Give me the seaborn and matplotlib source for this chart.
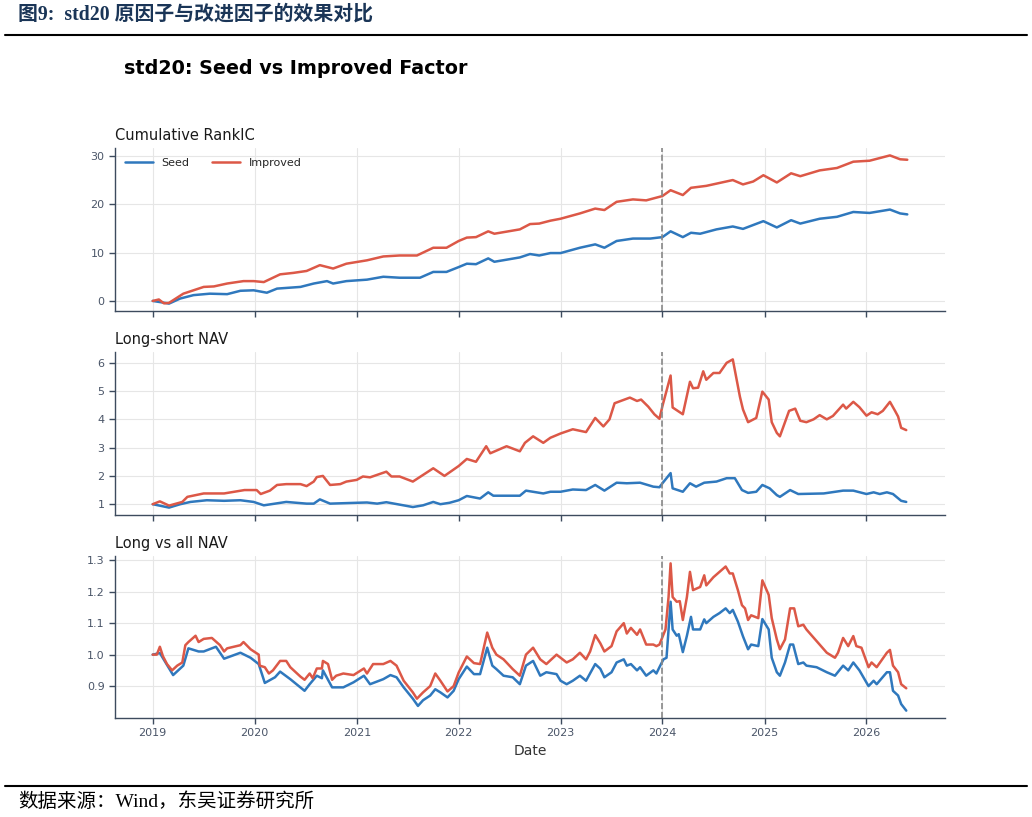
import matplotlib
matplotlib.use("Agg")
import matplotlib.pyplot as plt
import matplotlib.dates as mdates
import pandas as pd
import seaborn as sns

# Dates are written as decimal years
ic_seed_t = [2019.0, 2019.09, 2019.16, 2019.27, 2019.4, 2019.56, 2019.73, 2019.86, 2019.99, 2020.12, 2020.22,
             2020.45, 2020.58, 2020.71, 2020.77, 2020.9, 2021.1, 2021.26, 2021.42, 2021.62, 2021.75, 2021.88,
             2022.0, 2022.08, 2022.17, 2022.29, 2022.35, 2022.6, 2022.7, 2022.79, 2022.9, 2023.0, 2023.19,
             2023.34, 2023.43, 2023.55, 2023.71, 2023.88, 2024.0, 2024.08, 2024.2, 2024.28, 2024.37, 2024.53,
             2024.69, 2024.79, 2024.99, 2025.12, 2025.26, 2025.35, 2025.54, 2025.71, 2025.87, 2026.03, 2026.23,
             2026.33, 2026.4]
ic_seed_v = [0.0, -0.3, -0.55, 0.5, 1.2, 1.5, 1.4, 2.1, 2.2, 1.7, 2.55,
             2.9, 3.6, 4.1, 3.6, 4.1, 4.4, 5.0, 4.8, 4.8, 6.0, 6.0,
             7.0, 7.7, 7.6, 8.8, 8.1, 9.0, 9.7, 9.4, 9.9, 9.9, 11.0,
             11.7, 11.0, 12.4, 12.9, 12.9, 13.2, 14.4, 13.2, 14.1, 13.9, 14.8,
             15.4, 14.9, 16.5, 15.2, 16.7, 16.0, 17.0, 17.4, 18.4, 18.2, 18.9,
             18.1, 17.9]
ic_impr_t = [2019.0, 2019.06, 2019.11, 2019.16, 2019.3, 2019.5, 2019.6, 2019.73, 2019.89, 2019.99, 2020.09,
             2020.25, 2020.38, 2020.51, 2020.64, 2020.77, 2020.9, 2021.1, 2021.26, 2021.42, 2021.59, 2021.75,
             2021.88, 2022.0, 2022.08, 2022.17, 2022.29, 2022.35, 2022.6, 2022.7, 2022.79, 2022.9, 2023.0,
             2023.19, 2023.34, 2023.43, 2023.55, 2023.71, 2023.84, 2024.0, 2024.08, 2024.2, 2024.28, 2024.43,
             2024.69, 2024.79, 2024.89, 2024.99, 2025.12, 2025.26, 2025.35, 2025.54, 2025.71, 2025.87, 2026.03,
             2026.23, 2026.33, 2026.4]
ic_impr_v = [0.0, 0.3, -0.5, -0.4, 1.5, 2.9, 3.0, 3.6, 4.1, 4.1, 3.9,
             5.5, 5.8, 6.2, 7.4, 6.7, 7.7, 8.4, 9.2, 9.4, 9.4, 11.0,
             11.0, 12.4, 13.1, 13.2, 14.4, 13.9, 14.8, 15.9, 16.0, 16.6, 17.0,
             18.1, 19.1, 18.8, 20.5, 21.0, 20.8, 21.7, 22.9, 21.9, 23.4, 23.8,
             25.0, 24.1, 24.7, 26.0, 24.5, 26.4, 25.8, 27.0, 27.5, 28.8, 29.0,
             30.1, 29.3, 29.2]

ls_seed_t = [2019.0, 2019.16, 2019.27, 2019.37, 2019.53, 2019.7, 2019.86, 2019.99, 2020.09, 2020.31, 2020.51,
             2020.58, 2020.64, 2020.74, 2021.0, 2021.1, 2021.2, 2021.29, 2021.55, 2021.65, 2021.75, 2021.82,
             2021.91, 2022.0, 2022.08, 2022.21, 2022.29, 2022.34, 2022.6, 2022.66, 2022.83, 2022.9, 2023.0,
             2023.12, 2023.25, 2023.34, 2023.43, 2023.55, 2023.65, 2023.78, 2023.91, 2023.97, 2024.0, 2024.08,
             2024.1, 2024.2, 2024.27, 2024.33, 2024.41, 2024.53, 2024.63, 2024.71, 2024.78, 2024.84, 2024.92,
             2024.98, 2025.05, 2025.12, 2025.15, 2025.25, 2025.33, 2025.58, 2025.77, 2025.87, 2026.0, 2026.07,
             2026.13, 2026.2, 2026.26, 2026.34, 2026.39]
ls_seed_v = [1.0, 0.88, 1.0, 1.08, 1.14, 1.12, 1.14, 1.08, 0.96, 1.08, 1.02,
             1.02, 1.17, 1.02, 1.05, 1.06, 1.02, 1.07, 0.9, 0.96, 1.08, 1.0,
             1.05, 1.14, 1.29, 1.2, 1.42, 1.3, 1.3, 1.48, 1.38, 1.44, 1.44,
             1.52, 1.5, 1.68, 1.48, 1.76, 1.74, 1.76, 1.62, 1.6, 1.74, 2.1,
             1.56, 1.44, 1.74, 1.62, 1.76, 1.8, 1.92, 1.92, 1.5, 1.4, 1.44,
             1.68, 1.56, 1.32, 1.26, 1.5, 1.36, 1.38, 1.48, 1.48, 1.36, 1.42,
             1.36, 1.42, 1.36, 1.12, 1.08]
ls_impr_t = [2019.0, 2019.07, 2019.16, 2019.29, 2019.34, 2019.5, 2019.7, 2019.8, 2019.9, 2020.02, 2020.06,
             2020.15, 2020.22, 2020.31, 2020.45, 2020.51, 2020.58, 2020.61, 2020.67, 2020.74, 2020.84, 2020.9,
             2021.0, 2021.06, 2021.13, 2021.29, 2021.34, 2021.42, 2021.55, 2021.75, 2021.86, 2022.0, 2022.08,
             2022.17, 2022.27, 2022.31, 2022.47, 2022.6, 2022.65, 2022.73, 2022.83, 2022.9, 2023.0, 2023.12,
             2023.25, 2023.34, 2023.42, 2023.48, 2023.53, 2023.59, 2023.68, 2023.75, 2023.79, 2023.86, 2023.92,
             2023.97, 2024.0, 2024.08, 2024.1, 2024.2, 2024.27, 2024.3, 2024.35, 2024.4, 2024.43, 2024.5,
             2024.56, 2024.63, 2024.69, 2024.76, 2024.79, 2024.84, 2024.92, 2024.98, 2025.04, 2025.07, 2025.12,
             2025.15, 2025.24, 2025.3, 2025.35, 2025.41, 2025.48, 2025.54, 2025.61, 2025.67, 2025.77, 2025.8,
             2025.87, 2025.93, 2026.0, 2026.05, 2026.11, 2026.16, 2026.23, 2026.28, 2026.31, 2026.34, 2026.39]
ls_impr_v = [1.0, 1.1, 0.95, 1.08, 1.26, 1.38, 1.38, 1.44, 1.5, 1.5, 1.36,
             1.48, 1.68, 1.71, 1.71, 1.64, 1.8, 1.96, 2.0, 1.68, 1.71, 1.8,
             1.86, 1.98, 1.95, 2.15, 1.98, 1.98, 1.8, 2.27, 2.0, 2.35, 2.6,
             2.5, 3.05, 2.8, 3.05, 2.87, 3.17, 3.4, 3.17, 3.35, 3.5, 3.65,
             3.55, 4.05, 3.75, 4.0, 4.57, 4.65, 4.77, 4.65, 4.7, 4.45, 4.18,
             4.02, 4.47, 5.55, 4.42, 4.18, 5.33, 5.1, 5.12, 5.7, 5.4, 5.64,
             5.64, 6.0, 6.12, 4.8, 4.35, 3.9, 4.05, 4.98, 4.7, 3.9, 3.52,
             3.4, 4.3, 4.38, 3.95, 3.9, 4.0, 4.15, 4.0, 4.12, 4.52, 4.38,
             4.62, 4.43, 4.13, 4.25, 4.18, 4.3, 4.62, 4.3, 4.1, 3.7, 3.62]

la_seed_t = [2019.0, 2019.07, 2019.2, 2019.3, 2019.35, 2019.45, 2019.5, 2019.62, 2019.7, 2019.86, 2019.96,
             2020.04, 2020.1, 2020.2, 2020.25, 2020.35, 2020.49, 2020.54, 2020.61, 2020.66, 2020.67, 2020.76,
             2020.87, 2020.97, 2021.07, 2021.13, 2021.26, 2021.33, 2021.39, 2021.46, 2021.55, 2021.6, 2021.65,
             2021.72, 2021.77, 2021.82, 2021.89, 2021.95, 2022.0, 2022.08, 2022.15, 2022.21, 2022.28, 2022.33,
             2022.37, 2022.44, 2022.53, 2022.6, 2022.66, 2022.73, 2022.8, 2022.86, 2022.96, 2023.0, 2023.06,
             2023.12, 2023.19, 2023.25, 2023.34, 2023.39, 2023.43, 2023.5, 2023.55, 2023.62, 2023.65, 2023.69,
             2023.75, 2023.78, 2023.84, 2023.91, 2023.94, 2023.97, 2024.01, 2024.04, 2024.08, 2024.1, 2024.14,
             2024.16, 2024.2, 2024.24, 2024.28, 2024.3, 2024.37, 2024.41, 2024.43, 2024.5, 2024.56, 2024.62,
             2024.66, 2024.69, 2024.74, 2024.79, 2024.84, 2024.87, 2024.94, 2024.98, 2025.04, 2025.07, 2025.12,
             2025.15, 2025.2, 2025.25, 2025.28, 2025.33, 2025.38, 2025.41, 2025.51, 2025.61, 2025.69, 2025.77,
             2025.82, 2025.87, 2025.93, 2026.02, 2026.07, 2026.1, 2026.2, 2026.23, 2026.26, 2026.31, 2026.34,
             2026.39]
la_seed_v = [1.0, 1.005, 0.935, 0.965, 1.02, 1.01, 1.01, 1.025, 0.987, 1.006, 0.99,
             0.97, 0.91, 0.928, 0.946, 0.922, 0.885, 0.906, 0.933, 0.925, 0.95, 0.896,
             0.896, 0.912, 0.933, 0.906, 0.922, 0.935, 0.928, 0.896, 0.86, 0.837, 0.855,
             0.87, 0.89, 0.88, 0.864, 0.885, 0.922, 0.962, 0.938, 0.938, 1.022, 0.965,
             0.954, 0.933, 0.928, 0.906, 0.965, 0.98, 0.933, 0.944, 0.938, 0.917, 0.906,
             0.917, 0.933, 0.917, 0.97, 0.955, 0.928, 0.944, 0.975, 0.985, 0.965, 0.97,
             0.95, 0.96, 0.933, 0.95, 0.94, 0.96, 0.985, 0.99, 1.168, 1.08, 1.06,
             1.065, 1.008, 1.06, 1.12, 1.08, 1.08, 1.112, 1.1, 1.12, 1.132, 1.147,
             1.132, 1.142, 1.105, 1.058, 1.017, 1.032, 1.027, 1.113, 1.08, 0.99, 0.944,
             0.933, 0.975, 1.032, 1.032, 0.97, 0.975, 0.965, 0.96, 0.944, 0.933, 0.965,
             0.95, 0.975, 0.95, 0.9, 0.917, 0.906, 0.944, 0.944, 0.885, 0.87, 0.843,
             0.822]
la_impr_t = [2019.0, 2019.04, 2019.07, 2019.1, 2019.14, 2019.19, 2019.24, 2019.29, 2019.32, 2019.35, 2019.42,
             2019.45, 2019.5, 2019.58, 2019.66, 2019.7, 2019.73, 2019.86, 2019.89, 2019.96, 2020.04, 2020.05,
             2020.1, 2020.14, 2020.18, 2020.25, 2020.31, 2020.35, 2020.45, 2020.49, 2020.54, 2020.57, 2020.61,
             2020.66, 2020.67, 2020.72, 2020.76, 2020.8, 2020.87, 2020.97, 2021.07, 2021.1, 2021.16, 2021.26,
             2021.33, 2021.39, 2021.46, 2021.55, 2021.59, 2021.65, 2021.72, 2021.77, 2021.82, 2021.89, 2021.95,
             2022.0, 2022.08, 2022.15, 2022.21, 2022.28, 2022.33, 2022.37, 2022.44, 2022.53, 2022.6, 2022.66,
             2022.73, 2022.8, 2022.86, 2022.96, 2023.0, 2023.06, 2023.12, 2023.19, 2023.25, 2023.29, 2023.34,
             2023.39, 2023.43, 2023.5, 2023.55, 2023.62, 2023.65, 2023.69, 2023.75, 2023.78, 2023.84, 2023.91,
             2023.94, 2023.97, 2024.01, 2024.03, 2024.06, 2024.08, 2024.1, 2024.14, 2024.17, 2024.2, 2024.24,
             2024.27, 2024.3, 2024.37, 2024.41, 2024.43, 2024.5, 2024.56, 2024.62, 2024.66, 2024.69, 2024.74,
             2024.78, 2024.81, 2024.84, 2024.87, 2024.94, 2024.98, 2025.04, 2025.07, 2025.12, 2025.15, 2025.2,
             2025.25, 2025.29, 2025.33, 2025.38, 2025.41, 2025.51, 2025.61, 2025.69, 2025.72, 2025.77, 2025.82,
             2025.87, 2025.9, 2025.95, 2026.02, 2026.05, 2026.1, 2026.2, 2026.23, 2026.26, 2026.31, 2026.34,
             2026.39]
la_impr_v = [1.0, 1.0, 1.025, 0.995, 0.97, 0.95, 0.965, 0.975, 1.03, 1.04, 1.06,
             1.04, 1.05, 1.053, 1.03, 1.01, 1.02, 1.03, 1.04, 1.017, 1.0, 0.965,
             0.96, 0.94, 0.95, 0.98, 0.98, 0.96, 0.93, 0.92, 0.94, 0.925, 0.956,
             0.956, 0.98, 0.97, 0.92, 0.933, 0.94, 0.935, 0.956, 0.94, 0.97, 0.97,
             0.98, 0.965, 0.917, 0.88, 0.86, 0.88, 0.9, 0.94, 0.917, 0.883, 0.9,
             0.943, 0.994, 0.973, 0.97, 1.07, 1.022, 1.0, 0.985, 0.954, 0.933, 1.0,
             1.022, 0.985, 0.97, 1.0, 0.99, 0.975, 0.985, 1.006, 0.985, 1.01, 1.062,
             1.036, 1.01, 1.027, 1.074, 1.1, 1.067, 1.085, 1.063, 1.08, 1.032, 1.032,
             1.027, 1.032, 1.064, 1.08, 1.183, 1.29, 1.183, 1.168, 1.17, 1.11, 1.183,
             1.263, 1.205, 1.215, 1.252, 1.22, 1.246, 1.263, 1.28, 1.258, 1.258, 1.205,
             1.157, 1.147, 1.11, 1.125, 1.116, 1.236, 1.19, 1.116, 1.048, 1.017, 1.048,
             1.147, 1.147, 1.09, 1.095, 1.08, 1.043, 1.006, 0.99, 1.006, 1.053, 1.027,
             1.059, 1.027, 1.022, 0.96, 0.975, 0.96, 1.006, 1.015, 0.965, 0.944, 0.906,
             0.893]

panel_titles = ["Cumulative RankIC", "Long-short NAV", "Long vs all NAV"]
series_names = ["Seed", "Improved"]
series_colors = ["#2f78bd", "#dc5847"]
split_date = "2024-01-01"


def to_date(years):
    years = pd.Series(years, dtype=float)
    whole = years.astype(int)
    start = pd.to_datetime(whole.astype(str) + "-01-01")
    return start + pd.to_timedelta((years - whole) * 365.25, unit="D")


def long_frame(seed_t, seed_v, impr_t, impr_v):
    seed = pd.DataFrame({"Date": to_date(seed_t), "value": seed_v, "series": "Seed"})
    impr = pd.DataFrame({"Date": to_date(impr_t), "value": impr_v, "series": "Improved"})
    return pd.concat([seed, impr], ignore_index=True)


panels = [
    long_frame(ic_seed_t, ic_seed_v, ic_impr_t, ic_impr_v),
    long_frame(ls_seed_t, ls_seed_v, ls_impr_t, ls_impr_v),
    long_frame(la_seed_t, la_seed_v, la_impr_t, la_impr_v),
]

sns.set_theme(style="whitegrid")
plt.rcParams["font.family"] = ["DejaVu Sans"]

fig = plt.figure(figsize=(10.32, 8.17), dpi=100)
W, H = 1032, 817

# report header / footer
hdr_font = ["Liberation Serif", "Noto Sans CJK SC"]
fig.text(18 / W, 1 - 15 / H, "图9:  std20 原因子与改进因子的效果对比", family=hdr_font,
         fontsize=14.3, fontweight="bold", color="#1a3557", ha="left", va="center")
fig.add_artist(plt.Line2D([5 / W, 1027 / W], [1 - 35 / H, 1 - 35 / H], color="black", lw=1.5))
fig.add_artist(plt.Line2D([5 / W, 1027 / W], [1 - 786 / H, 1 - 786 / H], color="black", lw=1.5))
fig.text(18 / W, 1 - 802 / H, "数据来源：Wind，东吴证券研究所", family=hdr_font,
         fontsize=14, color="black", ha="left", va="center")

fig.text(124 / W, 1 - 68 / H, "std20: Seed vs Improved Factor", fontsize=13.8,
         fontweight="bold", color="black", ha="left", va="center")

ax_boxes = [(148, 311), (352, 515), (556, 718)]
axes = []
for i, (top, bottom) in enumerate(ax_boxes):
    ax = fig.add_axes([115 / W, 1 - bottom / H, (945 - 115) / W, (bottom - top) / H],
                      sharex=axes[0] if axes else None)
    axes.append(ax)
    sns.lineplot(data=panels[i], x="Date", y="value", hue="series", hue_order=series_names,
                 palette=series_colors, lw=1.8, ax=ax, legend=(i == 0))
    ax.axvline(pd.Timestamp(split_date), color="#888888", ls="--", lw=1.2)
    ax.set_title(panel_titles[i], loc="left", fontsize=10.5, pad=6, color="#1a1a1a")
    ax.set_ylabel("")
    ax.grid(True, color="#e6e6e6", lw=0.8)
    for s in ["top", "right"]:
        ax.spines[s].set_visible(False)
    for s in ["left", "bottom"]:
        ax.spines[s].set_color("#3d4b5e")
        ax.spines[s].set_linewidth(1.0)
    ax.tick_params(axis="both", which="both", length=4, width=1, color="#3d4b5e",
                   labelcolor="#4a5568", labelsize=8, bottom=True, left=True)
    if i < 2:
        ax.set_xlabel("")
        ax.tick_params(labelbottom=False)

axes[0].legend(loc="upper left", ncol=2, frameon=False, fontsize=8, handlelength=2.5,
               columnspacing=2.0)
axes[0].set_yticks([0, 10, 20, 30])
axes[1].set_yticks([1, 2, 3, 4, 5, 6])
axes[2].set_yticks([0.9, 1.0, 1.1, 1.2, 1.3])
axes[2].set_xlabel("Date", fontsize=10, color="#333333")

axes[2].xaxis.set_major_locator(mdates.YearLocator())
axes[2].xaxis.set_major_formatter(mdates.DateFormatter("%Y"))

fig.savefig("out.png", dpi=100)
